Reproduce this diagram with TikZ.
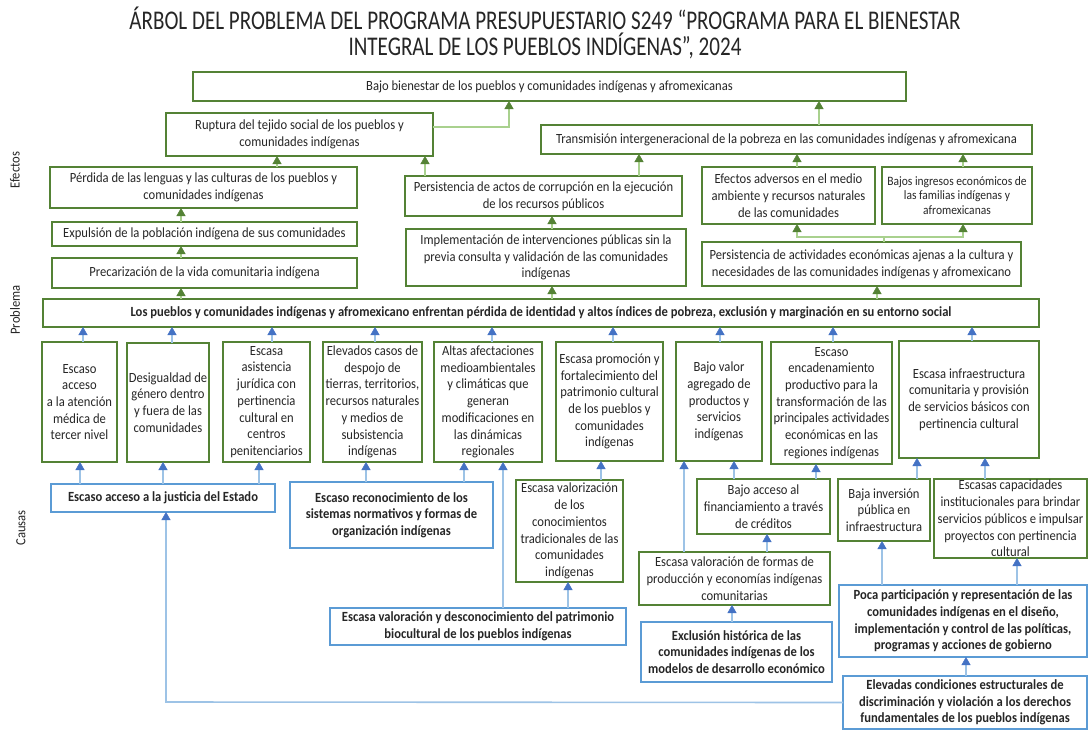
\documentclass[tikz,border=0pt]{standalone}
\usepackage{fontspec}
\setmainfont{Carlito}[FakeStretch=0.78]
\newfontfamily\bodyf{Carlito}[FakeStretch=0.9]
\usetikzlibrary{arrows.meta}
\definecolor{gB}{HTML}{548235}
\definecolor{gL}{HTML}{A9D18E}
\definecolor{bB}{HTML}{5B9BD5}
\definecolor{bA}{HTML}{4472C4}
\definecolor{bL}{HTML}{9DC3E6}
\definecolor{tx}{HTML}{262626}
\newcommand\fsn{\bodyf\fontsize{14}{16.7}\selectfont}
\newcommand\fss{\bodyf\fontsize{12.8}{14.5}\selectfont}
\newcommand\mybox[7]{%
  \pgfmathsetmacro\bxw{#4-#2}\pgfmathsetmacro\bxh{#5-#3}%
  \node[#6, minimum width=\bxw pt, minimum height=\bxh pt] (#1) at ({(#2+#4)/2},{(#3+#5)/2}) {#7};}
\newcommand\upar[4]{\draw[#1] (#2,0 |- #3.north) -- (#2,0 |- #4.south);}
\tikzset{
  basebox/.style={line width=1.8pt, inner sep=0pt, outer sep=0pt, align=center, text=tx, font=\fsn},
  gbox/.style={basebox, draw=gB},
  bbox/.style={basebox, draw=bB, font=\fsn\bfseries},
  garr/.style={draw=gL, line width=1.6pt, -{Triangle[width=9pt,length=8pt,color=gB,line width=0.4pt]}},
  barr/.style={draw=bL, line width=1.6pt, -{Triangle[width=9pt,length=8pt,color=bA,line width=0.4pt]}},
  side/.style={rotate=90, font=\fsn, text=tx},
}
\begin{document}
\begin{tikzpicture}[x=1pt,y=-1pt]
\useasboundingbox (0,0) rectangle (1089,732);
\fill[white] (0,0) rectangle (1089,732);
% title
\node[align=center, text=tx, font=\fontsize{27}{26}\selectfont] (title) at (545,33)
  {ÁRBOL DEL PROBLEMA DEL PROGRAMA PRESUPUESTARIO S249 “PROGRAMA PARA EL BIENESTAR\\INTEGRAL DE LOS PUEBLOS INDÍGENAS”, 2024};
% side labels
\node[side] (lef) at (15,170) {Efectos};
\node[side] (lpr) at (15,310) {Problema};
\node[side] (lca) at (21,528) {Causas};
% effects
\mybox{E0}{193}{72}{906}{101}{gbox}{Bajo bienestar de los pueblos y comunidades indígenas y afromexicanas}
\mybox{E1}{166}{113}{433}{156}{gbox}{Ruptura del tejido social de los pueblos y\\comunidades indígenas}
\mybox{E2}{50}{167}{357}{208}{gbox}{Pérdida de las lenguas y las culturas de los pueblos y\\comunidades indígenas}
\mybox{E3}{52}{222}{357}{246}{gbox}{Expulsión de la población indígena de sus comunidades}
\mybox{E4}{52}{258}{357}{288}{gbox}{Precarización de la vida comunitaria indígena}
\mybox{E5}{405}{176}{682}{216}{gbox}{Persistencia de actos de corrupción en la ejecución\\de los recursos públicos}
\mybox{E6}{406}{229}{686}{286}{gbox}{Implementación de intervenciones públicas sin la\\previa consulta y validación de las comunidades\\indígenas}
\mybox{E7}{541}{125}{1032}{154}{gbox}{Transmisión intergeneracional de la pobreza en las comunidades indígenas y afromexicana}
\mybox{E8}{702}{167}{875}{224}{gbox}{Efectos adversos en el medio\\ambiente y recursos naturales\\de las comunidades}
\mybox{E9}{882}{167}{1032}{224}{gbox,font=\fss}{Bajos ingresos económicos de\\las familias indígenas y\\afromexicanas}
\mybox{E10}{702}{242}{1021}{286}{gbox}{Persistencia de actividades económicas ajenas a la cultura y\\necesidades de las comunidades indígenas y afromexicano}
% problem
\mybox{P}{43}{299}{1039}{327}{gbox,font=\fsn\bfseries}{Los pueblos y comunidades indígenas y afromexicano enfrentan pérdida de identidad y altos índices de pobreza, exclusión y marginación en su entorno social}
% causes row
\mybox{C1}{42}{342}{117}{462}{gbox}{Escaso\\acceso\\a la atención\\médica de\\tercer nivel}
\mybox{C2}{127}{343}{209}{462}{gbox}{Desigualdad de\\género dentro\\y fuera de las\\comunidades}
\mybox{C3}{223}{342}{310}{462}{gbox}{Escasa\\asistencia\\jurídica con\\pertinencia\\cultural en\\centros\\penitenciarios}
\mybox{C4}{323}{342}{422}{462}{gbox}{Elevados casos de\\despojo de\\tierras, territorios,\\recursos naturales\\y medios de\\subsistencia\\indígenas}
\mybox{C5}{434}{342}{542}{462}{gbox}{Altas afectaciones\\medioambientales\\y climáticas que\\generan\\modificaciones en\\las dinámicas\\regionales}
\mybox{C6}{556}{342}{663}{461}{gbox}{Escasa promoción y\\fortalecimiento del\\patrimonio cultural\\de los pueblos y\\comunidades\\indígenas}
\mybox{C7}{676}{342}{762}{461}{gbox}{Bajo valor\\agregado de\\productos y\\servicios\\indígenas}
\mybox{C8}{771}{342}{892}{464}{gbox}{Escaso\\encadenamiento\\productivo para la\\transformación de las\\principales actividades\\económicas en las\\regiones indígenas}
\mybox{C9}{899}{341}{1039}{458}{gbox}{Escasa infraestructura\\comunitaria y provisión\\de servicios básicos con\\pertinencia cultural}
% lower causes
\mybox{B1}{51}{484}{275}{512}{bbox}{Escaso acceso a la justicia del Estado}
\mybox{B2}{290}{482}{493}{548}{bbox}{Escaso reconocimiento de los\\sistemas normativos y formas de\\organización indígenas}
\mybox{G1}{516}{480}{623}{582}{gbox}{Escasa valorización\\de los\\conocimientos\\tradicionales de las\\comunidades\\indígenas}
\mybox{B3}{330}{608}{626}{645}{bbox}{Escasa valoración y desconocimiento del patrimonio\\biocultural de los pueblos indígenas}
\mybox{G2}{697}{479}{830}{534}{gbox}{Bajo acceso al\\financiamiento a través\\de créditos}
\mybox{G3}{639}{552}{830}{605}{gbox}{Escasa valoración de formas de\\producción y economías indígenas\\comunitarias}
\mybox{B4}{641}{622}{832}{682}{bbox}{Exclusión histórica de las\\comunidades indígenas de los\\modelos de desarrollo económico}
\mybox{G4}{838}{479}{930}{541}{gbox}{Baja inversión\\pública en\\infraestructura}
\mybox{G5}{934}{479}{1087}{558}{gbox}{Escasas capacidades\\institucionales para brindar\\servicios públicos e impulsar\\proyectos con pertinencia\\cultural}
\mybox{B5}{839}{585}{1087}{657}{bbox}{Poca participación y representación de las\\comunidades indígenas en el diseño,\\implementación y control de las políticas,\\programas y acciones de gobierno}
\mybox{B6}{843}{676}{1087}{729}{bbox}{Elevadas condiciones estructurales de\\discriminación y violación a los derechos\\fundamentales de los pueblos indígenas}
% green connectors (effects)
\upar{garr}{181}{P}{E4}
\upar{garr}{181}{E4}{E3}
\upar{garr}{181}{E3}{E2}
\upar{garr}{277}{E2}{E1}
\upar{garr}{425}{E5}{E1}
\coordinate (k1) at (509,127);
\draw[garr] (E1.east |- k1) -- (k1) -- (509,0 |- E0.south);
\upar{garr}{552}{P}{E6}
\upar{garr}{552}{E6}{E5}
\upar{garr}{639}{E5}{E7}
\upar{garr}{819}{E7}{E0}
\upar{garr}{797}{E8}{E7}
\upar{garr}{963}{E9}{E7}
\coordinate (j1) at (884,237);
\draw[garr] (884,0 |- E10.north) -- (j1) -- (797,237) -- (797,0 |- E8.south);
\draw[garr] (j1) -- (963,237) -- (963,0 |- E9.south);
\upar{garr}{877}{P}{E10}
% blue connectors (causes)
\upar{barr}{83}{C1}{P}
\upar{barr}{172}{C2}{P}
\upar{barr}{272}{C3}{P}
\upar{barr}{375}{C4}{P}
\upar{barr}{492}{C5}{P}
\upar{barr}{613}{C6}{P}
\upar{barr}{720}{C7}{P}
\upar{barr}{833}{C8}{P}
\upar{barr}{972}{C9}{P}
\upar{barr}{80}{B1}{C1}
\upar{barr}{163}{B1}{C2}
\upar{barr}{259}{B1}{C3}
\upar{barr}{366}{B2}{C4}
\upar{barr}{464}{B2}{C5}
\upar{barr}{503}{B3}{C5}
\upar{barr}{601}{G1}{C6}
\upar{barr}{568}{B3}{G1}
\upar{barr}{684}{G3}{C7}
\upar{barr}{734}{G2}{C7}
\upar{barr}{816}{G2}{C8}
\upar{barr}{767}{G3}{G2}
\upar{barr}{732}{B4}{G3}
\upar{barr}{917}{G4}{C9}
\upar{barr}{985}{G5}{C9}
\upar{barr}{882}{B5}{G4}
\upar{barr}{1017}{B5}{G5}
\upar{barr}{966}{B6}{B5}
\coordinate (k2) at (166,702);
\draw[barr] (B6.west) -- (k2) -- (166,0 |- B1.south);
\end{tikzpicture}
\end{document}
